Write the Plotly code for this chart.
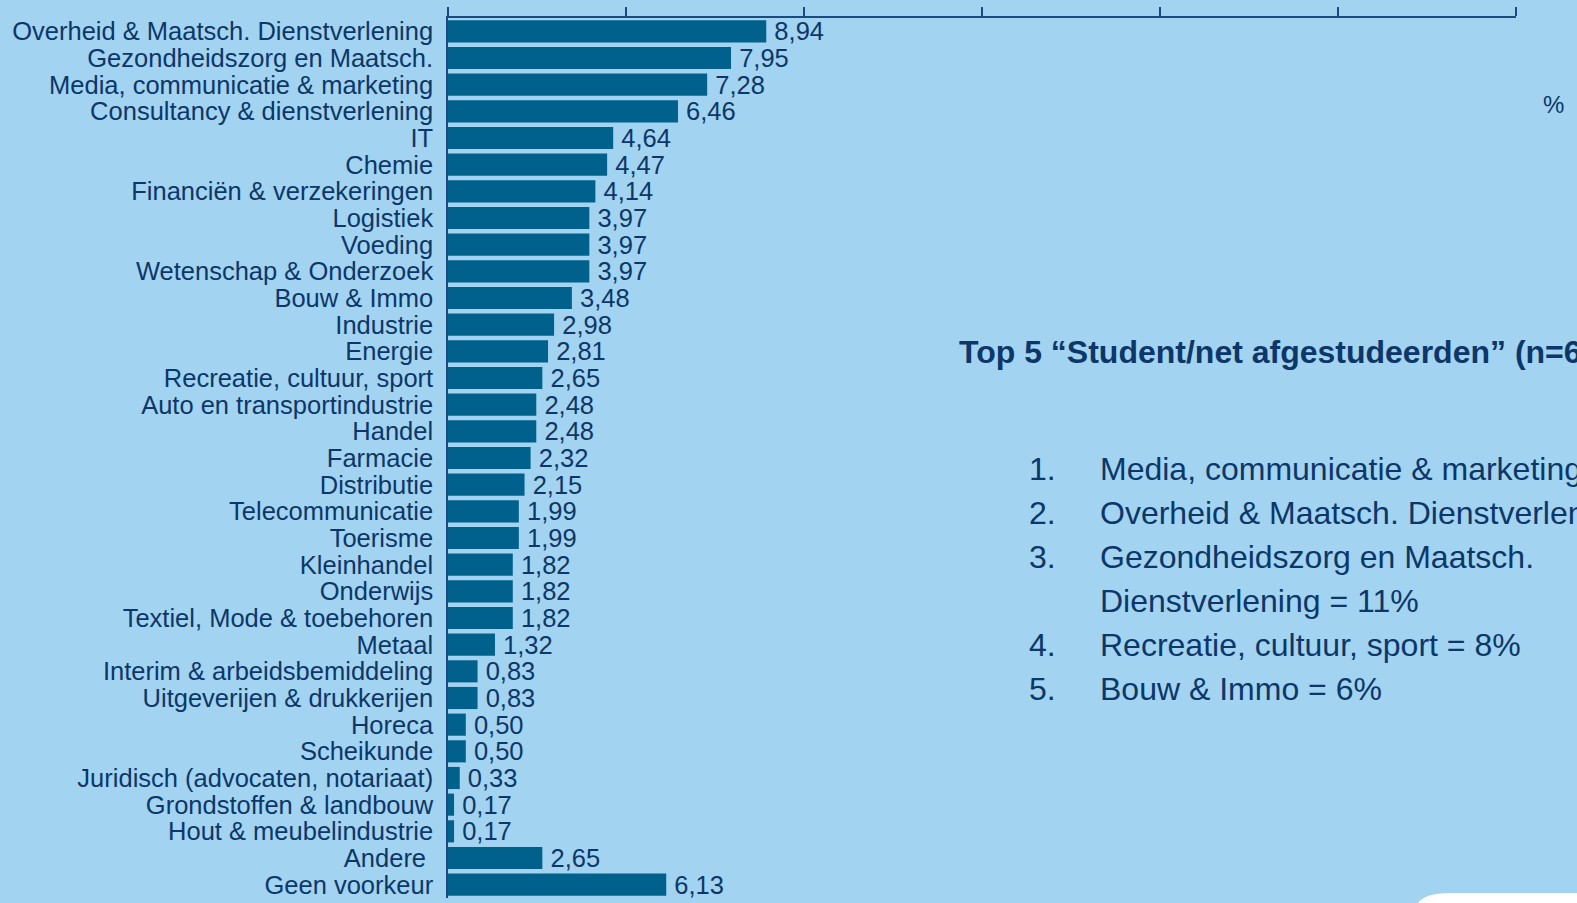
import plotly.graph_objects as go

categories = [
    "Overheid & Maatsch. Dienstverlening", "Gezondheidszorg en Maatsch.",
    "Media, communicatie & marketing", "Consultancy & dienstverlening", "IT",
    "Chemie", "Financiën & verzekeringen", "Logistiek", "Voeding",
    "Wetenschap & Onderzoek", "Bouw & Immo", "Industrie", "Energie",
    "Recreatie, cultuur, sport", "Auto en transportindustrie", "Handel",
    "Farmacie", "Distributie", "Telecommunicatie", "Toerisme", "Kleinhandel",
    "Onderwijs", "Textiel, Mode & toebehoren", "Metaal",
    "Interim & arbeidsbemiddeling", "Uitgeverijen & drukkerijen", "Horeca",
    "Scheikunde", "Juridisch (advocaten, notariaat)", "Grondstoffen & landbouw",
    "Hout & meubelindustrie", "Andere\u00a0", "Geen voorkeur",
]
values = [8.94, 7.95, 7.28, 6.46, 4.64, 4.47, 4.14, 3.97, 3.97, 3.97, 3.48,
          2.98, 2.81, 2.65, 2.48, 2.48, 2.32, 2.15, 1.99, 1.99, 1.82, 1.82,
          1.82, 1.32, 0.83, 0.83, 0.50, 0.50, 0.33, 0.17, 0.17, 2.65, 6.13]
x_ticks = [0, 5, 10, 15, 20, 25, 30]

title_text = "Top 5 “Student/net afgestudeerden” (n=604)"
list_numbers = ["1.", "2.", "3.", "", "4.", "5."]
list_texts = ["Media, communicatie & marketing",
              "Overheid & Maatsch. Dienstverlening",
              "Gezondheidszorg en Maatsch.",
              "Dienstverlening = 11%",
              "Recreatie, cultuur, sport = 8%",
              "Bouw & Immo = 6%"]

W, H = 1577, 903
L, R, T, B = 448, 61, 18, 5
BG = "#a2d3f0"
BAR = "#00628c"
TXT = "#0c3768"
AX = "#1b4a80"
FONT = "Liberation Sans, Arial, sans-serif"

def px(xp):
    return (xp - L) / (W - L - R)

def py(yp):
    return (H - B - yp) / (H - T - B)

labels = ["\u2009" + f"{v:.2f}".replace(".", ",") for v in values]

fig = go.Figure(go.Bar(
    x=values, y=categories, orientation="h",
    marker=dict(color=BAR, line=dict(width=0)),
    text=labels, textposition="outside", cliponaxis=False,
    constraintext="none",
    textfont=dict(family=FONT, size=25.5, color=TXT),
))

annotations = [
    dict(x=px(957), y=py(352), xref="paper", yref="paper", text="<b>" + title_text + "</b>",
         showarrow=False, xanchor="left", yanchor="middle",
         font=dict(family=FONT, size=32, color=TXT)),
    dict(x=px(1541), y=py(104), xref="paper", yref="paper", text="%",
         showarrow=False, xanchor="left", yanchor="middle",
         font=dict(family=FONT, size=24, color=TXT)),
]
ys = [469, 513, 557, 601, 645, 689]
for n, t, yy in zip(list_numbers, list_texts, ys):
    if n:
        annotations.append(dict(x=px(1027), y=py(yy), xref="paper", yref="paper", text=n,
                                showarrow=False, xanchor="left", yanchor="middle",
                                font=dict(family=FONT, size=32, color=TXT)))
    annotations.append(dict(x=px(1098), y=py(yy), xref="paper", yref="paper", text=t,
                            showarrow=False, xanchor="left", yanchor="middle",
                            font=dict(family=FONT, size=32, color=TXT)))

fig.update_layout(
    width=W, height=H,
    margin=dict(l=L, r=R, t=T, b=B, pad=0),
    paper_bgcolor=BG, plot_bgcolor=BG,
    bargap=0.17,
    showlegend=False,
    font=dict(family=FONT, color=TXT),
    xaxis=dict(side="top", range=[0, 30], tickvals=x_ticks, showticklabels=False,
               ticks="outside", ticklen=9, tickwidth=2, tickcolor=AX,
               showline=True, linecolor=AX, linewidth=2,
               showgrid=False, zeroline=False, fixedrange=True),
    yaxis=dict(autorange="reversed", showline=True, linecolor=AX, linewidth=1.5,
               tickmode="array", tickvals=categories, ticktext=categories,
               ticks="", showgrid=False, ticklabelstandoff=8,
               tickfont=dict(family=FONT, size=25.5, color=TXT)),
    annotations=annotations,
    shapes=[dict(type="path", xref="paper", yref="paper",
                 path=f"M {px(1418)} {py(903)} Q {px(1425)} {py(893)} {px(1450)} {py(893)} "
                      f"L {px(1577)} {py(893)} L {px(1577)} {py(903)} Z",
                 fillcolor="white", line=dict(width=0), layer="above")],
)

fig.write_html("out.html", config={"displayModeBar": False},
               post_script="document.body.style.margin='0';document.body.style.overflow='hidden';")
